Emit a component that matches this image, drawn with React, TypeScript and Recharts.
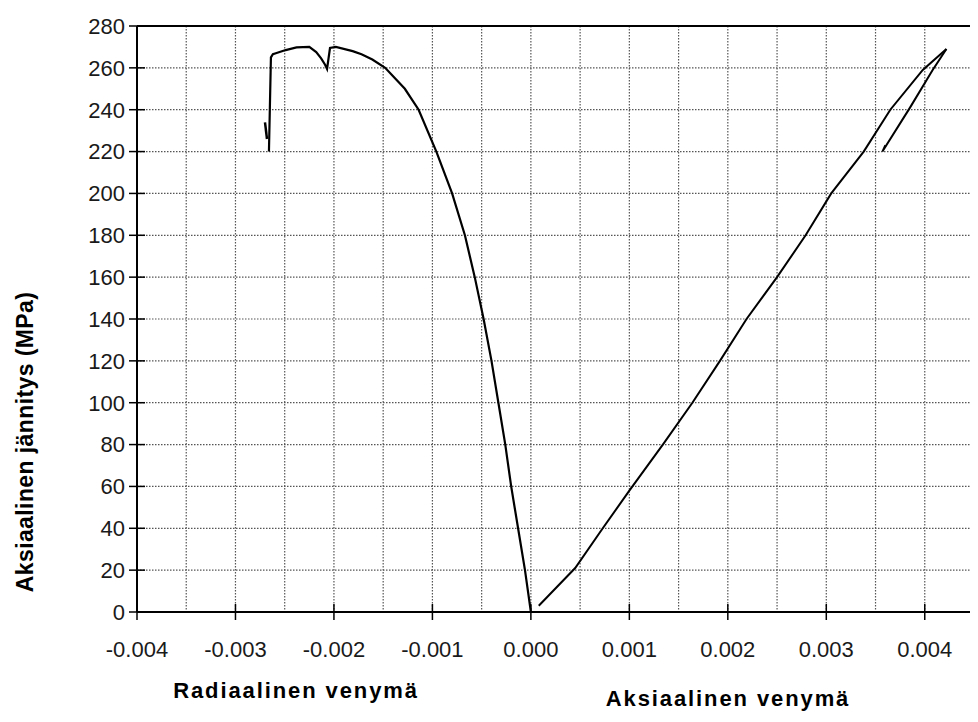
import React from 'react';
import { LineChart, Line, XAxis, YAxis, CartesianGrid, ReferenceLine } from 'recharts';

// ---- axis ticks ----
const xDomain: [number, number] = [-0.004, 0.0045];
const xTickValues = [-0.004, -0.003, -0.002, -0.001, 0, 0.001, 0.002, 0.003, 0.004];
const xTickLabels = ['-0.004', '-0.003', '-0.002', '-0.001', '0.000', '0.001', '0.002', '0.003', '0.004'];
const xGridValues = [-0.004, -0.0035, -0.003, -0.0025, -0.002, -0.0015, -0.001, -0.0005, 0, 0.0005, 0.001, 0.0015, 0.002, 0.0025, 0.003, 0.0035, 0.004, 0.0045];
const yTickValues = [0, 20, 40, 60, 80, 100, 120, 140, 160, 180, 200, 220, 240, 260, 280];

// ---- radial strain curve (Radiaalinen venymä) ----
const radialStrain = [0, -0.00006, -0.00013, -0.0002, -0.00026, -0.00033, -0.0004, -0.00048, -0.00057, -0.00067, -0.0008, -0.00096, -0.00114, -0.00128, -0.00148, -0.00161, -0.00172, -0.00181, -0.00198, -0.00204, -0.00207, -0.00209, -0.00213, -0.00218, -0.00225, -0.00238, -0.00249, -0.00259, -0.00262, -0.00264, -0.00266];
const radialStress = [0, 20, 40, 60, 80, 100, 120, 140, 160, 180, 200, 220, 240, 250, 260, 264, 266.5, 268, 270, 269.5, 259.5, 261.5, 264.5, 267.5, 270, 269.8, 268.5, 267, 266.5, 265, 220];
const radialStubStrain = [-0.0027, -0.00268];
const radialStubStress = [234, 226];

// ---- axial strain curve (Aksiaalinen venymä) ----
const axialLoadStrain = [0.00008, 0.00045, 0.00073, 0.001, 0.00134, 0.00164, 0.00192, 0.00219, 0.0025, 0.00279, 0.00305, 0.00338, 0.00365, 0.00398, 0.00422];
const axialLoadStress = [3, 21, 40, 58, 80, 100, 120, 140, 160, 180, 200, 220, 240, 259, 269];
const axialUnloadStrain = [0.00422, 0.00408, 0.00385, 0.00357, 0.0036];
const axialUnloadStress = [269, 259, 241, 220, 223];

const toPoints = (xs: number[], ys: number[]) => xs.map((x, i) => ({ x, y: ys[i] }));
const radialData = toPoints(radialStrain, radialStress);
const radialStubData = toPoints(radialStubStrain, radialStubStress);
const axialLoadData = toPoints(axialLoadStrain, axialLoadStress);
const axialUnloadData = toPoints(axialUnloadStrain, axialUnloadStress);

const FONT = "'Liberation Sans', Arial, sans-serif";

const gridVerticals = (props: any) => {
  const scale = props?.xAxis?.scale;
  if (typeof scale === 'function') {
    return xGridValues.map((v) => scale(v));
  }
  const off = props?.offset || {};
  const left = off.left ?? 0;
  const w = off.width ?? 0;
  return xGridValues.map((v) => left + ((v - xDomain[0]) / (xDomain[1] - xDomain[0])) * w);
};

const XTick = (props: any) => {
  const { x, y, payload } = props;
  const i = xTickValues.findIndex((v) => Math.abs(v - payload.value) < 1e-9);
  return (
    <g>
      <line x1={x} x2={x} y1={y - 8} y2={y + 8} stroke="#000" strokeWidth={1.5} />
      <text x={x} y={y + 45} textAnchor="middle" fontSize={22} fontFamily={FONT} fill="#1a1a1a">
        {i >= 0 ? xTickLabels[i] : ''}
      </text>
    </g>
  );
};

const YTick = (props: any) => {
  const { x, y, payload } = props;
  return (
    <g>
      <line x1={x - 8} x2={x + 8} y1={y} y2={y} stroke="#000" strokeWidth={1.5} />
      <text x={x - 12} y={y} dy="0.36em" textAnchor="end" fontSize={22} fontFamily={FONT} fill="#1a1a1a">
        {payload.value}
      </text>
    </g>
  );
};

const XTitles = () => (
  <g>
    <text x={288} y={690} textAnchor="middle" fontSize={22} fontWeight="bold" letterSpacing={1.9} fontFamily={FONT} fill="#000">
      Radiaalinen venymä
    </text>
    <text x={720} y={698} textAnchor="middle" fontSize={22} fontWeight="bold" letterSpacing={1.9} fontFamily={FONT} fill="#000">
      Aksiaalinen venymä
    </text>
  </g>
);

const YTitle = () => (
  <text
    x={25}
    y={434}
    transform="rotate(-90 25 434)"
    textAnchor="middle"
    fontSize={23}
    fontWeight="bold"
    letterSpacing={0.4}
    fontFamily={FONT}
    fill="#000"
  >
    Aksiaalinen jännitys (MPa)
  </text>
);

export default function App() {
  return (
    <div style={{ width: 970, height: 714, background: '#fff' }}>
      <LineChart width={970} height={714} margin={{ top: 18, right: 4, bottom: 0, left: 0 }}>
        <CartesianGrid
          stroke="#555"
          strokeDasharray="1.5 1.5"
          strokeWidth={1.2}
          verticalCoordinatesGenerator={gridVerticals}
        />
        <XAxis
          type="number"
          dataKey="x"
          domain={xDomain}
          ticks={xTickValues}
          interval={0}
          allowDataOverflow
          height={110}
          tickLine={false}
          tickSize={0}
          tickMargin={0}
          tick={<XTick />}
          axisLine={{ stroke: '#000', strokeWidth: 2 }}
          label={<XTitles />}
        />
        <YAxis
          type="number"
          dataKey="y"
          domain={[0, 280]}
          ticks={yTickValues}
          interval={0}
          allowDataOverflow
          width={129}
          tickLine={false}
          tickSize={0}
          tickMargin={0}
          tick={<YTick />}
          axisLine={{ stroke: '#000', strokeWidth: 2 }}
          label={<YTitle />}
        />
        <ReferenceLine y={280} stroke="#000" strokeWidth={2} />
        <ReferenceLine x={0.0045} stroke="#000" strokeWidth={2} />
        <Line data={radialData} dataKey="y" type="linear" stroke="#000" strokeWidth={2.2} dot={false} isAnimationActive={false} />
        <Line data={radialStubData} dataKey="y" type="linear" stroke="#000" strokeWidth={2.5} dot={false} isAnimationActive={false} />
        <Line data={axialLoadData} dataKey="y" type="linear" stroke="#000" strokeWidth={2} dot={false} isAnimationActive={false} />
        <Line data={axialUnloadData} dataKey="y" type="linear" stroke="#000" strokeWidth={2} dot={false} isAnimationActive={false} />
      </LineChart>
    </div>
  );
}
